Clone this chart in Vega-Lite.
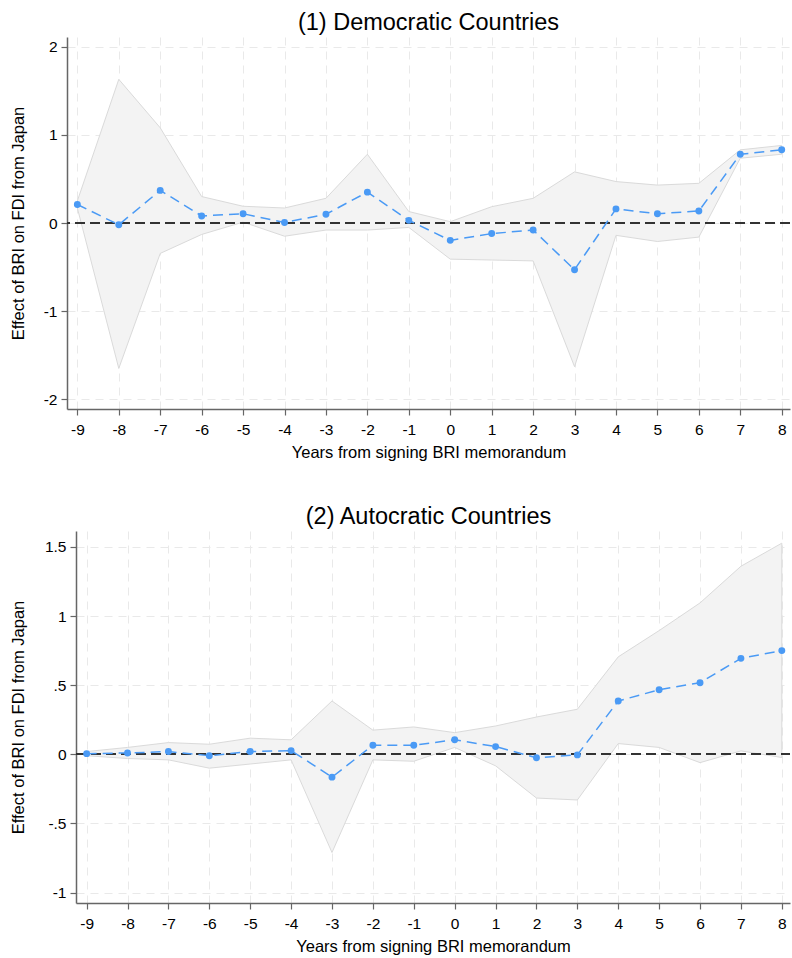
{
  "$schema": "https://vega.github.io/schema/vega-lite/v6.json",
  "padding": {"left": 10, "top": 10, "right": 2, "bottom": 5},
  "background": "white",
  "config": {
    "font": "Liberation Sans",
    "view": {"stroke": null},
    "title": {"fontSize": 23.5, "fontWeight": "normal", "color": "black", "font": "Liberation Sans", "offset": 3},
    "axis": {
      "labelFont": "Liberation Sans", "labelFontSize": 15.5, "labelColor": "black",
      "titleFont": "Liberation Sans", "titleFontSize": 16.5, "titleFontWeight": "normal", "titleColor": "black",
      "domainColor": "#666666", "domainWidth": 1.5, "tickColor": "#666666", "tickSize": 6, "tickWidth": 1.2,
      "gridColor": "#e9e9e9", "gridDash": [8, 6], "gridWidth": 1, "labelPadding": 4
    },
    "axisX": {"labelPadding": 7, "titlePadding": 7, "labelExpr": "'' + datum.value"}
  },
  "vconcat": [
    {
      "title": "(1) Democratic Countries",
      "width": 723, "height": 372,
      "data": {"values": [
        {"t": -9, "b": 0.21, "lo": 0.17, "hi": 0.25},
        {"t": -8, "b": -0.02, "lo": -1.65, "hi": 1.63},
        {"t": -7, "b": 0.37, "lo": -0.345, "hi": 1.08},
        {"t": -6, "b": 0.08, "lo": -0.13, "hi": 0.30},
        {"t": -5, "b": 0.105, "lo": 0.01, "hi": 0.19},
        {"t": -4, "b": 0.005, "lo": -0.15, "hi": 0.17},
        {"t": -3, "b": 0.10, "lo": -0.08, "hi": 0.28},
        {"t": -2, "b": 0.35, "lo": -0.08, "hi": 0.78},
        {"t": -1, "b": 0.03, "lo": -0.05, "hi": 0.13},
        {"t": 0, "b": -0.197, "lo": -0.41, "hi": 0.015},
        {"t": 1, "b": -0.12, "lo": -0.42, "hi": 0.185},
        {"t": 2, "b": -0.08, "lo": -0.43, "hi": 0.28},
        {"t": 3, "b": -0.53, "lo": -1.63, "hi": 0.58},
        {"t": 4, "b": 0.16, "lo": -0.14, "hi": 0.47},
        {"t": 5, "b": 0.105, "lo": -0.21, "hi": 0.43},
        {"t": 6, "b": 0.136, "lo": -0.16, "hi": 0.45},
        {"t": 7, "b": 0.78, "lo": 0.735, "hi": 0.83},
        {"t": 8, "b": 0.83, "lo": 0.78, "hi": 0.88}
      ]},
      "layer": [
        {
          "mark": {"type": "area", "fill": "#f3f3f3", "stroke": "#dadada", "strokeWidth": 1, "opacity": 1},
          "encoding": {
            "x": {"field": "t", "type": "quantitative", "scale": {"domain": [-9.25, 8.2], "nice": false, "zero": false},
                  "axis": {"values": [-9,-8,-7,-6,-5,-4,-3,-2,-1,0,1,2,3,4,5,6,7,8], "title": "Years from signing BRI memorandum"}},
            "y": {"field": "lo", "type": "quantitative", "scale": {"domain": [-2.11, 2.11], "nice": false, "zero": false},
                  "axis": {"values": [-2,-1,0,1,2], "title": "Effect of BRI on FDI from Japan", "titlePadding": 17,
                           "labelExpr": "'' + datum.value"}},
            "y2": {"field": "hi"}
          }
        },
        {
          "mark": {"type": "rule", "color": "#333333", "strokeWidth": 1.5, "strokeDash": [10, 5]},
          "encoding": {"y": {"datum": 0}}
        },
        {
          "mark": {"type": "line", "color": "#4a9af5", "strokeWidth": 1.5, "strokeDash": [10, 6],
                   "point": {"filled": true, "size": 48, "color": "#4a9af5", "opacity": 1}},
          "encoding": {
            "x": {"field": "t", "type": "quantitative"},
            "y": {"field": "b", "type": "quantitative"}
          }
        }
      ]
    },
    {
      "title": "(2) Autocratic Countries",
      "width": 723, "height": 372,
      "data": {"values": [
        {"t": -9, "b": 0.005, "lo": -0.01, "hi": 0.02},
        {"t": -8, "b": 0.01, "lo": -0.03, "hi": 0.05},
        {"t": -7, "b": 0.02, "lo": -0.04, "hi": 0.085},
        {"t": -6, "b": -0.01, "lo": -0.10, "hi": 0.073},
        {"t": -5, "b": 0.02, "lo": -0.07, "hi": 0.117},
        {"t": -4, "b": 0.027, "lo": -0.04, "hi": 0.105},
        {"t": -3, "b": -0.165, "lo": -0.71, "hi": 0.386},
        {"t": -2, "b": 0.066, "lo": -0.04, "hi": 0.175},
        {"t": -1, "b": 0.066, "lo": -0.05, "hi": 0.198},
        {"t": 0, "b": 0.105, "lo": 0.05, "hi": 0.157},
        {"t": 1, "b": 0.056, "lo": -0.083, "hi": 0.205},
        {"t": 2, "b": -0.025, "lo": -0.316, "hi": 0.27},
        {"t": 3, "b": -0.004, "lo": -0.33, "hi": 0.326},
        {"t": 4, "b": 0.386, "lo": 0.078, "hi": 0.705},
        {"t": 5, "b": 0.467, "lo": 0.05, "hi": 0.895},
        {"t": 6, "b": 0.518, "lo": -0.06, "hi": 1.095},
        {"t": 7, "b": 0.694, "lo": 0.025, "hi": 1.36},
        {"t": 8, "b": 0.75, "lo": -0.023, "hi": 1.527}
      ]},
      "layer": [
        {
          "mark": {"type": "area", "fill": "#f3f3f3", "stroke": "#dadada", "strokeWidth": 1, "opacity": 1},
          "encoding": {
            "x": {"field": "t", "type": "quantitative", "scale": {"domain": [-9.26, 8.2], "range": [9, 723], "nice": false, "zero": false},
                  "axis": {"values": [-9,-8,-7,-6,-5,-4,-3,-2,-1,0,1,2,3,4,5,6,7,8], "title": "Years from signing BRI memorandum"}},
            "y": {"field": "lo", "type": "quantitative", "scale": {"domain": [-1.075, 1.615], "nice": false, "zero": false},
                  "axis": {"values": [-1,-0.5,0,0.5,1,1.5], "title": "Effect of BRI on FDI from Japan", "titlePadding": 17.5, "offset": -9,
                           "labelExpr": "replace('' + datum.value, '0.', '.')"}},
            "y2": {"field": "hi"}
          }
        },
        {
          "mark": {"type": "rule", "color": "#333333", "strokeWidth": 1.5, "strokeDash": [10, 5]},
          "encoding": {"y": {"datum": 0}, "x": {"datum": -9.26}, "x2": {"datum": 8.2}}
        },
        {
          "mark": {"type": "line", "color": "#4a9af5", "strokeWidth": 1.5, "strokeDash": [10, 6],
                   "point": {"filled": true, "size": 48, "color": "#4a9af5", "opacity": 1}},
          "encoding": {
            "x": {"field": "t", "type": "quantitative"},
            "y": {"field": "b", "type": "quantitative"}
          }
        }
      ]
    }
  ],
  "align": "none",
  "spacing": 43
}
